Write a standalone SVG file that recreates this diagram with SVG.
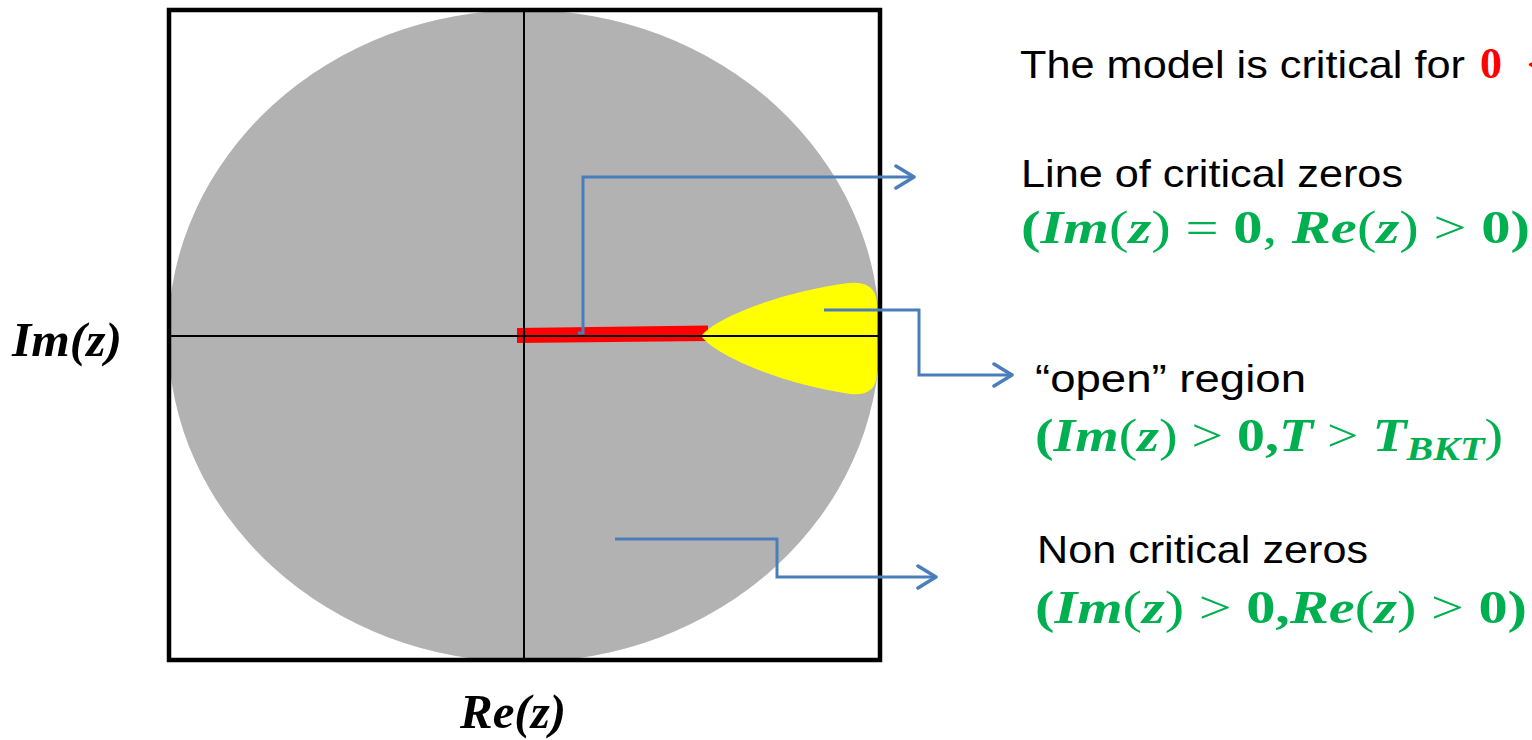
<svg xmlns="http://www.w3.org/2000/svg" width="1532" height="740" viewBox="0 0 1532 740">
<style>
.lbl{font-family:"Liberation Sans",Arial,sans-serif;font-size:39px;fill:#000}
.math{font-family:"Liberation Serif","Times New Roman",serif;font-size:46px;fill:#00b050}
.bi{font-weight:bold;font-style:italic}
.b{font-weight:bold}
.axl{font-family:"Liberation Serif","Times New Roman",serif;font-size:48px;font-weight:bold;font-style:italic;fill:#000}
.conn{fill:none;stroke:#4a7ebb;stroke-width:3;stroke-linejoin:miter}
</style>
<defs>
<clipPath id="box"><rect x="169" y="10" width="711" height="650"/></clipPath>
<marker id="arr" viewBox="0 0 22 26" refX="20" refY="13" markerWidth="22" markerHeight="26" markerUnits="userSpaceOnUse" orient="auto">
<path d="M2,2 L20,13 L2,24" fill="none" stroke="#4a7ebb" stroke-width="3.5" stroke-linecap="round" stroke-linejoin="round"/>
</marker>
</defs>
<rect width="1532" height="740" fill="#fff"/>
<g id="plane">
<ellipse cx="524" cy="336" rx="356" ry="326" fill="#b2b2b2" clip-path="url(#box)"/>
<polygon id="critical-line" points="517,328 708,325.5 708,341 517,343" fill="#ff0000"/>
<path id="open-region" d="M701,336 C715,318 780,292 848,283 Q877,280 877,305 L877,372 Q877,397 850,394 C780,384 715,355 701,336 Z" fill="#ffff00"/>
<line x1="524" y1="10" x2="524" y2="660" stroke="#000" stroke-width="2"/>
<line x1="169" y1="336" x2="880" y2="336" stroke="#000" stroke-width="2"/>
<rect x="169" y="10" width="711" height="650" fill="none" stroke="#000" stroke-width="4.5"/>
</g>
<g id="connectors">
<path class="conn" d="M578,333 H583 V177 H914" marker-end="url(#arr)"/>
<path class="conn" d="M824,310 H919 V375 H1012" marker-end="url(#arr)"/>
<path class="conn" d="M615,539 H777 V577 H936" marker-end="url(#arr)"/>
</g>
<g id="axis-labels">
<text class="axl" x="12" y="356" textLength="110" lengthAdjust="spacingAndGlyphs">Im(z)</text>
<text class="axl" x="460" y="728" textLength="106" lengthAdjust="spacingAndGlyphs">Re(z)</text>
</g>
<g id="title">
<text class="lbl" x="1020" y="78" textLength="445" lengthAdjust="spacingAndGlyphs">The model is critical for</text>
<text x="1480" y="78" font-family="Liberation Serif,serif" font-weight="bold" font-size="44" fill="#ff0000">0</text>
<text x="1527" y="78" font-family="Liberation Serif,serif" font-weight="bold" font-size="40" fill="#ff0000">&lt;</text>
</g>
<g id="critical-zeros">
<text class="lbl" x="1021" y="187" textLength="382" lengthAdjust="spacingAndGlyphs">Line of critical zeros</text>
<text class="math" x="1021" y="243" textLength="509" lengthAdjust="spacingAndGlyphs"><tspan class="b">(</tspan><tspan class="bi">Im</tspan>(<tspan class="bi">z</tspan>) = <tspan class="b">0</tspan>,  <tspan class="bi">Re</tspan>(<tspan class="bi">z</tspan>) &gt; <tspan class="b">0)</tspan></text>
</g>
<g id="open-region-label">
<text class="lbl" x="1035" y="392" textLength="271" lengthAdjust="spacingAndGlyphs">“open” region</text>
<text class="math" x="1035" y="451" textLength="468" lengthAdjust="spacingAndGlyphs"><tspan class="b">(</tspan><tspan class="bi">Im</tspan>(<tspan class="bi">z</tspan>) &gt; <tspan class="b">0,</tspan><tspan class="bi">T</tspan> &gt; <tspan class="bi">T</tspan><tspan class="bi" font-size="33" dy="9">BKT</tspan><tspan dy="-9">)</tspan></text>
</g>
<g id="non-critical">
<text class="lbl" x="1037" y="563" textLength="331" lengthAdjust="spacingAndGlyphs">Non critical zeros</text>
<text class="math" x="1035" y="623" textLength="492" lengthAdjust="spacingAndGlyphs"><tspan class="b">(</tspan><tspan class="bi">Im</tspan>(<tspan class="bi">z</tspan>) &gt; <tspan class="b">0,</tspan><tspan class="bi">Re</tspan>(<tspan class="bi">z</tspan>) &gt; <tspan class="b">0)</tspan></text>
</g>
</svg>
